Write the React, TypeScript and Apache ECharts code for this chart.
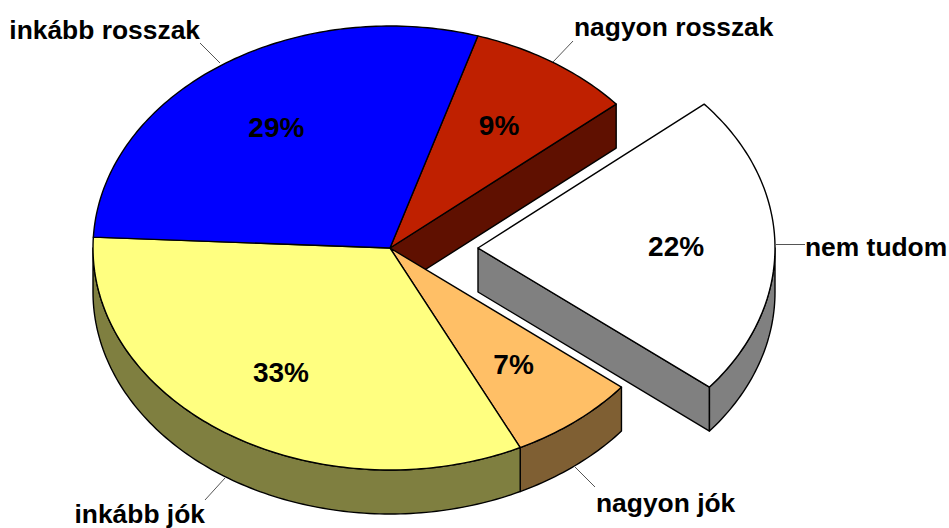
import React, { useEffect, useRef } from "react";
import * as echarts from "echarts";

const categories = ["nagyon rosszak", "nem tudom", "nagyon jók", "inkább jók", "inkább rosszak"];
const shares = [9, 22, 7, 33, 29];
const exploded = [false, true, false, false, false];
const topColors = ["#BF2000", "#FFFFFF", "#FFBF66", "#FFFF80", "#0000FF"];
const wallColors = ["#5F1000", "#808080", "#7F5F33", "#7F7F40", "#00007F"];

const START_DEG = 17.2;
const CX = 390;
const CY = 248;
const EXPLODE_DX = 88;
const RX = 297;
const RY = 222;
const DEPTH = 44;
const LABEL_R = 0.667;
const FONT = "'Liberation Sans', Arial, sans-serif";
const NAME_SIZE = 26.4;
const PCT_SIZE = 28;

const leaderLayout = [
  { text: [574, 27], align: "left", from: [553, 62], to: [573, 41] },
  { text: [805, 247], align: "left", from: [776, 244.5], to: [805, 244.5] },
  { text: [596, 503], align: "left", from: [574, 466], to: [595, 487] },
  { text: [205, 514], align: "right", from: [225, 478], to: [205, 500] },
  { text: [200, 30], align: "right", from: [220, 63], to: [200, 43] },
];

const total = shares.reduce((a, b) => a + b, 0);
const sweep = shares.map((v) => (v / total) * 360);
const startAngles = sweep.map((_, i) => START_DEG + sweep.slice(0, i).reduce((a, b) => a + b, 0));

const rad = (d: number) => (d * Math.PI) / 180;
const centerX = (i: number) => CX + (exploded[i] ? EXPLODE_DX : 0);
const rim = (i: number, deg: number, r = 1, dy = 0): number[] => [
  centerX(i) + RX * r * Math.sin(rad(deg)),
  CY - RY * r * Math.cos(rad(deg)) + dy,
];
const arc = (i: number, a: number, b: number, dy = 0): number[][] => {
  const pts: number[][] = [];
  const n = Math.max(2, Math.ceil(Math.abs(b - a)));
  for (let k = 0; k <= n; k++) pts.push(rim(i, a + ((b - a) * k) / n, 1, dy));
  return pts;
};
const edge = { stroke: "#000000", lineWidth: 1.4, lineJoin: "round" };

const renderWalls = (params: any) => {
  const i = params.dataIndex;
  const a = startAngles[i];
  const b = a + sweep[i];
  const children: any[] = [];
  const style = { ...edge, fill: wallColors[i] };
  const c = [centerX(i), CY];
  const next = (i + 1) % categories.length;
  // The flat cut face on the clockwise radius shows only beside an exploded slice.
  if (b > 0 && b < 180 && (exploded[i] || exploded[next])) {
    const p = rim(i, b);
    children.push({
      type: "polygon",
      shape: { points: [c, p, [p[0], p[1] + DEPTH], [c[0], c[1] + DEPTH]] },
      style,
    });
  }
  const from = Math.max(a, 90);
  const to = Math.min(b, 270);
  if (to > from) {
    children.push({
      type: "polygon",
      shape: { points: [...arc(i, from, to), ...arc(i, to, from, DEPTH)] },
      style,
    });
  }
  return { type: "group", children };
};

const renderTops = (params: any) => {
  const i = params.dataIndex;
  const a = startAngles[i];
  const b = a + sweep[i];
  const pos = rim(i, a + sweep[i] / 2, LABEL_R);
  return {
    type: "group",
    children: [
      {
        type: "polygon",
        shape: { points: [[centerX(i), CY], ...arc(i, a, b)] },
        style: { ...edge, fill: topColors[i] },
      },
      {
        type: "text",
        x: pos[0],
        y: pos[1] + 1,
        style: {
          text: `${shares[i]}%`,
          fill: "#000",
          font: `bold ${PCT_SIZE}px ${FONT}`,
          align: "center",
          verticalAlign: "middle",
        },
      },
    ],
  };
};

const renderNames = (params: any) => {
  const i = params.dataIndex;
  const l = leaderLayout[i];
  return {
    type: "group",
    children: [
      {
        type: "line",
        shape: { x1: l.from[0], y1: l.from[1], x2: l.to[0], y2: l.to[1] },
        style: { stroke: "#555555", lineWidth: 1 },
      },
      {
        type: "text",
        x: l.text[0],
        y: l.text[1],
        style: {
          text: categories[i],
          fill: "#000",
          font: `bold ${NAME_SIZE}px ${FONT}`,
          align: l.align,
          verticalAlign: "middle",
        },
      },
    ],
  };
};

export default function App() {
  const ref = useRef<HTMLDivElement>(null);
  useEffect(() => {
    const chart = echarts.init(ref.current!, undefined, { renderer: "svg" });
    const data = categories.map((name, i) => ({ name, value: shares[i] }));
    chart.setOption({
      animation: false,
      backgroundColor: "#FFFFFF",
      series: [
        { type: "custom", coordinateSystem: "none", silent: true, renderItem: renderWalls, data, z: 1 },
        { type: "custom", coordinateSystem: "none", silent: true, renderItem: renderTops, data, z: 2 },
        { type: "custom", coordinateSystem: "none", silent: true, renderItem: renderNames, data, z: 3 },
      ],
    });
    return () => chart.dispose();
  }, []);
  return (
    <div
      ref={ref}
      style={{ position: "fixed", left: 0, top: 0, width: 949, height: 528 }}
    />
  );
}
